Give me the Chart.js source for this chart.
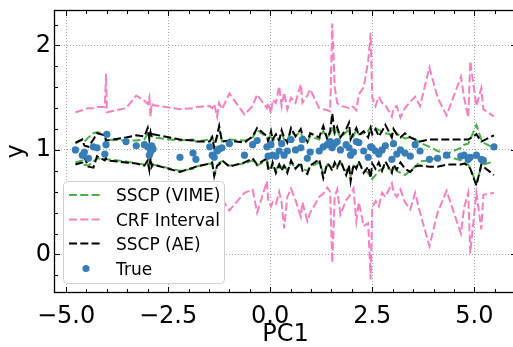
<!DOCTYPE html>
<html>
<head>
<meta charset="utf-8">
<script src="https://cdn.jsdelivr.net/npm/chart.js@4.4.0/dist/chart.umd.min.js"></script>
<style>
    html, body { margin: 0; padding: 0; overflow: hidden; background: #fff; }
</style>
</head>
<body>
<canvas id="miGrafico" width="520" height="347"></canvas>
<script>
// Valores de PC1 (ordenados)
const pc1 = [-4.77, -4.60, -4.55, -4.45, -4.33, -4.24, -4.05, -4.02, -4.00, -3.53,
    -3.28, -3.08, -3.00, -2.96, -2.93, -2.90, -2.87, -2.21, -1.89, -1.82,
    -1.48, -1.42, -1.37, -1.30, -1.25, -1.18, -1.00, -0.63, -0.43, -0.32,
    -0.08, -0.05, 0.02, 0.06, 0.14, 0.22, 0.28, 0.34, 0.42, 0.51,
    0.62, 0.75, 0.79, 0.91, 0.98, 1.20, 1.30, 1.40, 1.47, 1.52,
    1.58, 1.64, 1.72, 1.86, 1.93, 1.97, 2.04, 2.11, 2.17, 2.29,
    2.40, 2.46, 2.50, 2.58, 2.66, 2.74, 2.82, 2.98, 3.02, 3.10,
    3.19, 3.30, 3.43, 3.55, 3.67, 3.90, 4.10, 4.32, 4.67, 4.75,
    4.85, 4.90, 5.05, 5.17, 5.22, 5.48];

// Valores reales (True)
const yTrue = [1.00, 0.95, 0.98, 0.92, 1.03, 1.02, 0.96, 1.05, 1.15, 1.08,
    1.04, 1.05, 1.03, 0.95, 0.98, 1.04, 1.01, 0.93, 0.97, 0.91,
    1.03, 0.95, 0.93, 0.99, 1.01, 1.02, 1.06, 0.95, 1.05, 1.09,
    1.03, 0.94, 1.05, 0.95, 0.94, 0.99, 1.06, 0.95, 0.99, 1.10,
    1.00, 1.02, 1.10, 0.92, 0.98, 0.99, 1.03, 1.05, 1.08, 1.02,
    1.06, 1.08, 1.00, 1.05, 1.02, 0.95, 0.98, 1.08, 1.07, 0.99,
    0.93, 1.03, 1.02, 0.99, 0.96, 1.00, 1.04, 0.91, 1.06, 0.96,
    1.00, 0.97, 0.94, 1.05, 0.99, 0.91, 0.92, 0.95, 0.94, 0.95,
    0.91, 0.93, 0.95, 0.91, 0.90, 1.03];

// Intervalo CRF
const crfSup = [1.36, 1.38, 1.39, 1.40, 1.40, 1.41, 1.41, 1.73, 1.36, 1.40,
    1.52, 1.47, 1.44, 1.50, 1.32, 1.45, 1.43, 1.39, 1.40, 1.41,
    1.42, 1.40, 1.44, 1.32, 1.45, 1.39, 1.54, 1.34, 1.42, 1.53,
    1.40, 1.45, 1.35, 1.48, 1.45, 1.61, 1.42, 1.55, 1.39, 1.50,
    1.45, 1.63, 1.45, 1.52, 1.58, 1.40, 1.39, 1.38, 1.37, 2.21,
    1.60, 1.45, 1.42, 1.41, 1.40, 1.42, 1.41, 1.38, 1.53, 1.60,
    1.85, 2.12, 1.50, 1.42, 1.51, 1.45, 1.43, 1.32, 1.40, 1.42,
    1.31, 1.40, 1.46, 1.51, 1.42, 1.79, 1.50, 1.33, 1.70, 1.50,
    1.31, 1.85, 1.42, 1.59, 1.39, 1.32];
const crfInf = [0.58, 0.56, 0.55, 0.54, 0.53, 0.52, 0.53, 0.20, 0.56, 0.52,
    0.40, 0.45, 0.48, 0.42, 0.60, 0.47, 0.50, 0.53, 0.52, 0.51,
    0.50, 0.52, 0.48, 0.60, 0.47, 0.53, 0.42, 0.59, 0.62, 0.40,
    0.70, 0.52, 0.46, 0.50, 0.48, 0.60, 0.50, 0.25, 0.55, 0.63,
    0.52, 0.36, 0.50, 0.32, 0.40, 0.55, 0.58, 0.64, 0.60, -0.08,
    0.55, 0.62, 0.38, 0.52, 0.55, 0.58, 0.63, 0.32, 0.50, 0.27,
    0.30, -0.24, 0.45, 0.51, 0.46, 0.59, 0.55, 0.68, 0.60, 0.55,
    0.62, 0.50, 0.43, 0.59, 0.40, 0.08, 0.40, 0.61, 0.20, 0.45,
    0.59, 0.01, 0.59, 0.24, 0.57, 0.59];

// SSCP (AE)
const aeSup = [1.07, 1.10, 1.04, 1.03, 1.10, 1.16, 1.14, 1.08, 1.09, 1.12,
    1.14, 1.13, 1.21, 1.10, 1.17, 1.12, 1.15, 1.10, 1.09, 1.08,
    1.08, 1.12, 1.02, 1.14, 1.23, 1.08, 1.09, 1.07, 1.13, 1.21,
    1.13, 1.08, 1.18, 1.10, 1.15, 1.09, 1.19, 1.12, 1.07, 1.21,
    1.13, 1.20, 1.14, 1.08, 1.16, 1.12, 1.23, 1.10, 1.18, 1.35,
    1.17, 1.22, 1.12, 1.20, 1.26, 1.10, 1.16, 1.21, 1.14, 1.18,
    1.12, 1.21, 1.15, 1.20, 1.13, 1.18, 1.24, 1.12, 1.20, 1.15,
    1.12, 1.16, 1.12, 1.10, 1.08, 1.10, 1.10, 1.10, 1.10, 1.10,
    1.10, 1.11, 1.15, 1.08, 1.09, 1.14];
const aeInf = [0.86, 0.88, 0.93, 0.84, 0.83, 0.94, 0.90, 0.92, 0.90, 0.88,
    0.87, 0.85, 0.90, 0.81, 0.93, 0.84, 0.86, 0.79, 0.83, 0.84,
    0.87, 0.88, 0.75, 0.85, 0.86, 0.90, 0.84, 0.88, 0.92, 0.86,
    0.92, 0.82, 0.81, 0.88, 0.78, 0.86, 0.80, 0.85, 0.78, 0.90,
    0.82, 0.88, 0.80, 0.77, 0.85, 0.91, 0.73, 0.87, 0.84, 0.80,
    0.88, 0.83, 0.90, 0.76, 0.85, 0.70, 0.86, 0.82, 0.89, 0.78,
    0.84, 0.73, 0.87, 0.82, 0.88, 0.80, 0.89, 0.78, 0.86, 0.81,
    0.88, 0.82, 0.79, 0.84, 0.85, 0.84, 0.84, 0.86, 0.86, 0.87,
    0.85, 0.82, 0.66, 0.86, 0.84, 0.76];

// SSCP (VIME)
const vimeSup = [1.06, 1.10, 1.08, 1.12, 1.16, 1.17, 1.16, 1.10, 1.10, 1.09,
    1.09, 1.10, 1.16, 1.12, 1.15, 1.13, 1.12, 1.09, 1.10, 1.08,
    1.10, 1.13, 1.06, 1.12, 1.20, 1.08, 1.10, 1.09, 1.12, 1.19,
    1.12, 1.10, 1.15, 1.08, 1.12, 1.10, 1.17, 1.10, 1.09, 1.18,
    1.14, 1.17, 1.12, 1.07, 1.13, 1.10, 1.18, 1.12, 1.16, 1.22,
    1.15, 1.19, 1.12, 1.17, 1.20, 1.10, 1.13, 1.19, 1.15, 1.16,
    1.18, 1.22, 1.23, 1.21, 1.19, 1.18, 1.16, 1.15, 1.19, 1.16,
    1.13, 1.11, 1.12, 1.10, 1.07, 1.03, 0.99, 0.96, 1.02, 1.05,
    1.06, 1.10, 1.24, 1.10, 1.07, 1.02];
const vimeInf = [0.88, 0.90, 0.86, 0.85, 0.89, 0.92, 0.91, 0.92, 0.91, 0.89,
    0.87, 0.86, 0.88, 0.82, 0.90, 0.85, 0.86, 0.80, 0.82, 0.84,
    0.87, 0.86, 0.77, 0.84, 0.88, 0.89, 0.85, 0.87, 0.90, 0.85,
    0.90, 0.81, 0.84, 0.86, 0.80, 0.87, 0.82, 0.86, 0.80, 0.88,
    0.83, 0.86, 0.82, 0.80, 0.84, 0.88, 0.78, 0.86, 0.85, 0.83,
    0.87, 0.84, 0.88, 0.80, 0.84, 0.75, 0.85, 0.83, 0.88, 0.81,
    0.78, 0.74, 0.72, 0.76, 0.80, 0.82, 0.84, 0.80, 0.84, 0.80,
    0.78, 0.76, 0.80, 0.84, 0.89, 0.90, 0.93, 0.94, 0.90, 0.88,
    0.86, 0.82, 0.68, 0.84, 0.86, 0.89];

// Marcas de los ejes
const xTicks = [-5, -2.5, 0, 2.5, 5];
const yTicks = [0, 1, 2];
const leyenda = ['SSCP (VIME)', 'CRF Interval', 'SSCP (AE)', 'True'];

const verde = '#4daf4a';
const rosa = '#f781bf';
const azul = '#377eb8';
const guion = [8, 3.3];

// Convierte una serie en puntos {x, y}
function puntos(ys) {
    return pc1.map((x, i) => ({ x: x, y: ys[i] }));
}

function linea(ys, color, orden) {
    return {
        data: puntos(ys),
        showLine: true,
        borderColor: color,
        borderWidth: 2,
        borderDash: guion,
        pointRadius: 0,
        tension: 0,
        order: orden
    };
}

// Quitar el relleno extra que Chart.js reserva para las etiquetas
function sinRelleno(s) {
    s.paddingTop = 0;
    s.paddingBottom = 0;
    s.paddingLeft = 0;
    s.paddingRight = 0;
}

// Plugin para marco, ticks hacia dentro y leyenda
const marco = {
    id: 'marco',
    afterDraw(chart) {
        const ctx = chart.ctx;
        const a = chart.chartArea;
        const sx = chart.scales.x;
        const sy = chart.scales.y;
        ctx.save();
        ctx.strokeStyle = '#000';
        ctx.lineWidth = 1;
        ctx.setLineDash([]);
        ctx.beginPath();
        // ticks x
        for (let k = -12; k <= 12; k++) {
            const v = k * 0.5;
            if (v < sx.min || v > sx.max) continue;
            const px = Math.round(sx.getPixelForValue(v)) + 0.5;
            const largo = (k % 5 === 0) ? 5 : 3;
            ctx.moveTo(px, a.bottom); ctx.lineTo(px, a.bottom - largo);
            ctx.moveTo(px, a.top); ctx.lineTo(px, a.top + largo);
        }
        // ticks y
        for (let k = -5; k <= 15; k++) {
            const v = k * 0.2;
            if (v < sy.min || v > sy.max) continue;
            const py = Math.round(sy.getPixelForValue(v)) + 0.5;
            const largo = (k % 5 === 0) ? 5 : 3;
            ctx.moveTo(a.left, py); ctx.lineTo(a.left + largo, py);
            ctx.moveTo(a.right, py); ctx.lineTo(a.right - largo, py);
        }
        ctx.stroke();
        ctx.lineWidth = 1.3;
        ctx.strokeRect(a.left - 0.5, a.top - 0.5, a.right - a.left + 1, a.bottom - a.top + 1);

        // Leyenda
        ctx.beginPath();
        ctx.roundRect(63.5, 181.5, 161, 102, 4);
        ctx.fillStyle = '#fff';
        ctx.fill();
        ctx.strokeStyle = '#d0d0d0';
        ctx.lineWidth = 1;
        ctx.stroke();

        const colores = [verde, rosa, '#000'];
        const filas = [195, 219.5, 243.5, 268.5];
        ctx.font = '17px "DejaVu Sans"';
        ctx.fillStyle = '#000';
        ctx.textBaseline = 'alphabetic';
        for (let i = 0; i < leyenda.length; i++) {
            const y = filas[i];
            if (i < 3) {
                ctx.beginPath();
                ctx.strokeStyle = colores[i];
                ctx.lineWidth = 2;
                ctx.setLineDash(guion);
                ctx.moveTo(69, y); ctx.lineTo(100, y);
                ctx.stroke();
                ctx.setLineDash([]);
            } else {
                ctx.beginPath();
                ctx.fillStyle = azul;
                ctx.arc(86, y, 3.6, 0, Math.PI * 2);
                ctx.fill();
                ctx.fillStyle = '#000';
            }
            ctx.fillText(leyenda[i], 116, y + 6.2);
        }
        ctx.restore();
    }
};

function crearGrafico() {
    Chart.defaults.font.family = '"DejaVu Sans"';
    Chart.defaults.color = '#000';
    const ctx = document.getElementById('miGrafico').getContext('2d');
    new Chart(ctx, {
        type: 'scatter',
        data: {
            datasets: [
                {
                    data: puntos(yTrue),
                    backgroundColor: azul,
                    borderWidth: 0,
                    pointRadius: 3.6,
                    order: 0
                },
                linea(aeSup, '#000', 1),
                linea(aeInf, '#000', 1),
                linea(crfSup, rosa, 2),
                linea(crfInf, rosa, 2),
                linea(vimeSup, verde, 3),
                linea(vimeInf, verde, 3)
            ]
        },
        options: {
            responsive: false,
            devicePixelRatio: 1,
            animation: false,
            layout: { padding: { top: 11, right: 2, left: 0, bottom: 0 } },
            plugins: {
                legend: { display: false },
                tooltip: { enabled: false }
            },
            scales: {
                x: {
                    type: 'linear',
                    min: -5.27,
                    max: 6.02,
                    afterBuildTicks: (s) => { s.ticks = xTicks.map(v => ({ value: v })); },
                    afterFit: (s) => { s.height = 55; sinRelleno(s); },
                    grid: { color: '#a0a0a0', lineWidth: 0.9, drawTicks: false },
                    border: { display: false, dash: [1, 2] },
                    ticks: {
                        autoSkip: false,
                        maxRotation: 0,
                        padding: 10,
                        font: { size: 24 },
                        callback: (v) => v.toFixed(1).replace('-', '\u2212')
                    },
                    title: { display: true, text: 'PC1', font: { size: 24 }, padding: { top: 0, bottom: -2 } }
                },
                y: {
                    min: -0.36,
                    max: 2.33,
                    afterBuildTicks: (s) => { s.ticks = yTicks.map(v => ({ value: v })); },
                    afterFit: (s) => { s.width = 55; sinRelleno(s); },
                    grid: { color: '#a0a0a0', lineWidth: 0.9, drawTicks: false },
                    border: { display: false, dash: [1, 2] },
                    ticks: {
                        padding: 4,
                        font: { size: 24 },
                        callback: (v) => v.toFixed(0)
                    },
                    title: { display: true, text: 'y', font: { size: 24 }, padding: { top: 2, bottom: 0 } }
                }
            }
        },
        plugins: [marco]
    });
}

document.addEventListener('DOMContentLoaded', crearGrafico);
</script>
</body>
</html>
